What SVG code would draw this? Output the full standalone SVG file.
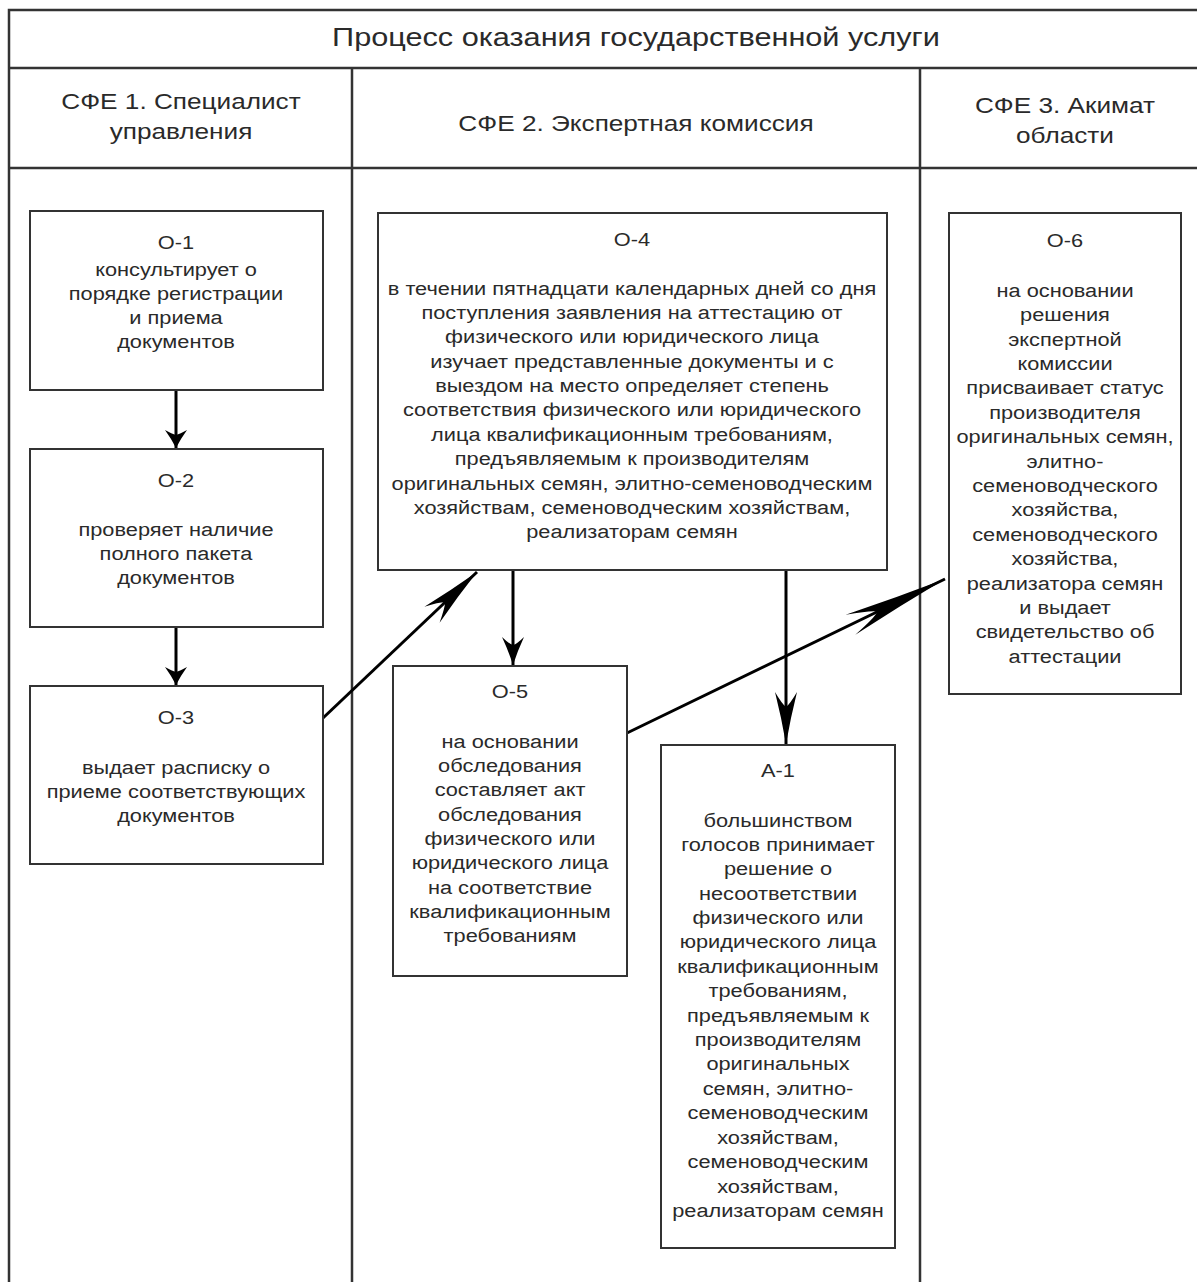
<svg xmlns="http://www.w3.org/2000/svg" width="1197" height="1282" viewBox="0 0 1197 1282">
<defs>
<style>
.frame{stroke:#333;stroke-width:2.5;fill:none}
.box{fill:#fff;stroke:#333;stroke-width:2}
.t{font-family:"Liberation Sans",Arial,sans-serif;font-size:18px;fill:#2a2a2a;text-anchor:middle}
.h{font-family:"Liberation Sans",Arial,sans-serif;font-size:22px;fill:#2a2a2a;text-anchor:middle}
.title{font-family:"Liberation Sans",Arial,sans-serif;font-size:26px;fill:#2a2a2a;text-anchor:middle}
.c{stroke:#000;stroke-width:3;fill:none}
.ah{fill:#000}
</style>
<marker id="a18" viewBox="-20 -12 22 24" refX="0" refY="0" markerWidth="22" markerHeight="24" markerUnits="userSpaceOnUse" orient="auto">
<path class="ah" d="M0,0 Q-9,-4.5 -18,-11 Q-14,-4 -13,0 Q-14,4 -18,11 Q-9,4.5 0,0 Z"/>
</marker>
<marker id="a28" viewBox="-30 -12 32 24" refX="0" refY="0" markerWidth="32" markerHeight="24" markerUnits="userSpaceOnUse" orient="auto">
<path class="ah" d="M0,0 Q-14,-4.5 -28,-11 Q-21,-4 -20,0 Q-21,4 -28,11 Q-14,4.5 0,0 Z"/>
</marker>
<marker id="a52" viewBox="-54 -12 56 24" refX="0" refY="0" markerWidth="56" markerHeight="24" markerUnits="userSpaceOnUse" orient="auto">
<path class="ah" d="M0,0 Q-26,-4.5 -52,-11 Q-40,-4 -37,0 Q-40,4 -52,11 Q-26,4.5 0,0 Z"/>
</marker>
<marker id="a62" viewBox="-64 -12 66 24" refX="0" refY="0" markerWidth="66" markerHeight="24" markerUnits="userSpaceOnUse" orient="auto">
<path class="ah" d="M0,0 Q-31,-4.5 -62,-11 Q-48,-4 -44,0 Q-48,4 -62,11 Q-31,4.5 0,0 Z"/>
</marker>
<marker id="a105" viewBox="-107 -12 109 24" refX="0" refY="0" markerWidth="109" markerHeight="24" markerUnits="userSpaceOnUse" orient="auto">
<path class="ah" d="M0,0 Q-52,-4.5 -105,-11 Q-80,-4 -75,0 Q-80,4 -105,11 Q-52,4.5 0,0 Z"/>
</marker>
</defs>
<rect width="1197" height="1282" fill="#fff"/>
<g id="frame">
<path class="frame" d="M9,1282 V10 H1197 M9,68 H1197 M9,168 H1197 M352,68 V1282 M920,68 V1282"/>
<g transform="translate(636 0) scale(1.18 1)">
<text class="title" x="0" y="46">Процесс оказания государственной услуги</text>
</g>
<g transform="translate(181 0) scale(1.19 1)">
<text class="h" x="0" y="109">СФЕ 1. Специалист</text>
<text class="h" x="0" y="139">управления</text>
</g>
<g transform="translate(636 0) scale(1.19 1)">
<text class="h" x="0" y="131">СФЕ 2. Экспертная комиссия</text>
</g>
<g transform="translate(1065 0) scale(1.19 1)">
<text class="h" x="0" y="113">СФЕ 3. Акимат</text>
<text class="h" x="0" y="143">области</text>
</g>
</g>
<g id="connectors">
<line class="c" marker-end="url(#a18)" x1="176" y1="391" x2="176" y2="448"/>
<line class="c" marker-end="url(#a18)" x1="176" y1="628" x2="176" y2="685"/>
<line class="c" marker-end="url(#a62)" x1="323" y1="718" x2="477" y2="572"/>
<line class="c" marker-end="url(#a28)" x1="513" y1="571" x2="513" y2="665"/>
<line class="c" marker-end="url(#a52)" x1="786" y1="571" x2="786" y2="744"/>
<line class="c" marker-end="url(#a105)" x1="627" y1="733" x2="945" y2="579"/>
</g>
<g id="O-1">
<rect class="box" x="30" y="211" width="293" height="179"/>
<g transform="translate(176 0) scale(1.21 1)">
<text class="t" x="0" y="249">О-1</text>
<text class="t" x="0" y="276">консультирует о</text>
<text class="t" x="0" y="300">порядке регистрации</text>
<text class="t" x="0" y="324">и приема</text>
<text class="t" x="0" y="348">документов</text>
</g>
</g>
<g id="O-2">
<rect class="box" x="30" y="449" width="293" height="178"/>
<g transform="translate(176 0) scale(1.21 1)">
<text class="t" x="0" y="487">О-2</text>
<text class="t" x="0" y="536">проверяет наличие</text>
<text class="t" x="0" y="560">полного пакета</text>
<text class="t" x="0" y="584">документов</text>
</g>
</g>
<g id="O-3">
<rect class="box" x="30" y="686" width="293" height="178"/>
<g transform="translate(176 0) scale(1.21 1)">
<text class="t" x="0" y="724">О-3</text>
<text class="t" x="0" y="774">выдает расписку о</text>
<text class="t" x="0" y="798">приеме соответствующих</text>
<text class="t" x="0" y="822">документов</text>
</g>
</g>
<g id="O-4">
<rect class="box" x="378" y="213" width="509" height="357"/>
<g transform="translate(632 0) scale(1.21 1)">
<text class="t" x="0" y="246">О-4</text>
<text class="t" x="0" y="295">в течении пятнадцати календарных дней со дня</text>
<text class="t" x="0" y="319">поступления заявления на аттестацию от</text>
<text class="t" x="0" y="343">физического или юридического лица</text>
<text class="t" x="0" y="368">изучает представленные документы и с</text>
<text class="t" x="0" y="392">выездом на место определяет степень</text>
<text class="t" x="0" y="416">соответствия физического или юридического</text>
<text class="t" x="0" y="441">лица квалификационным требованиям,</text>
<text class="t" x="0" y="465">предъявляемым к производителям</text>
<text class="t" x="0" y="490">оригинальных семян, элитно-семеноводческим</text>
<text class="t" x="0" y="514">хозяйствам, семеноводческим хозяйствам,</text>
<text class="t" x="0" y="538">реализаторам семян</text>
</g>
</g>
<g id="O-5">
<rect class="box" x="393" y="666" width="234" height="310"/>
<g transform="translate(510 0) scale(1.21 1)">
<text class="t" x="0" y="698">О-5</text>
<text class="t" x="0" y="748">на основании</text>
<text class="t" x="0" y="772">обследования</text>
<text class="t" x="0" y="796">составляет акт</text>
<text class="t" x="0" y="821">обследования</text>
<text class="t" x="0" y="845">физического или</text>
<text class="t" x="0" y="869">юридического лица</text>
<text class="t" x="0" y="894">на соответствие</text>
<text class="t" x="0" y="918">квалификационным</text>
<text class="t" x="0" y="942">требованиям</text>
</g>
</g>
<g id="A-1">
<rect class="box" x="661" y="745" width="234" height="503"/>
<g transform="translate(778 0) scale(1.21 1)">
<text class="t" x="0" y="777">А-1</text>
<text class="t" x="0" y="827">большинством</text>
<text class="t" x="0" y="851">голосов принимает</text>
<text class="t" x="0" y="875">решение о</text>
<text class="t" x="0" y="900">несоответствии</text>
<text class="t" x="0" y="924">физического или</text>
<text class="t" x="0" y="948">юридического лица</text>
<text class="t" x="0" y="973">квалификационным</text>
<text class="t" x="0" y="997">требованиям,</text>
<text class="t" x="0" y="1022">предъявляемым к</text>
<text class="t" x="0" y="1046">производителям</text>
<text class="t" x="0" y="1070">оригинальных</text>
<text class="t" x="0" y="1095">семян, элитно-</text>
<text class="t" x="0" y="1119">семеноводческим</text>
<text class="t" x="0" y="1144">хозяйствам,</text>
<text class="t" x="0" y="1168">семеноводческим</text>
<text class="t" x="0" y="1193">хозяйствам,</text>
<text class="t" x="0" y="1217">реализаторам семян</text>
</g>
</g>
<g id="O-6">
<rect class="box" x="949" y="213" width="232" height="481"/>
<g transform="translate(1065 0) scale(1.21 1)">
<text class="t" x="0" y="247">О-6</text>
<text class="t" x="0" y="297">на основании</text>
<text class="t" x="0" y="321">решения</text>
<text class="t" x="0" y="346">экспертной</text>
<text class="t" x="0" y="370">комиссии</text>
<text class="t" x="0" y="394">присваивает статус</text>
<text class="t" x="0" y="419">производителя</text>
<text class="t" x="0" y="443">оригинальных семян,</text>
<text class="t" x="0" y="468">элитно-</text>
<text class="t" x="0" y="492">семеноводческого</text>
<text class="t" x="0" y="516">хозяйства,</text>
<text class="t" x="0" y="541">семеноводческого</text>
<text class="t" x="0" y="565">хозяйства,</text>
<text class="t" x="0" y="590">реализатора семян</text>
<text class="t" x="0" y="614">и выдает</text>
<text class="t" x="0" y="638">свидетельство об</text>
<text class="t" x="0" y="663">аттестации</text>
</g>
</g>
</svg>
